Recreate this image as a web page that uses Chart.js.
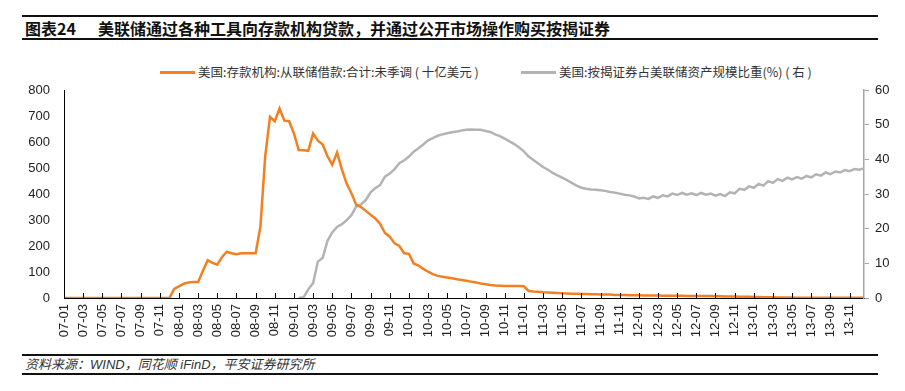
<!DOCTYPE html>
<html>
<head>
<meta charset="utf-8">
<script src="https://cdn.jsdelivr.net/npm/chart.js@4.4.0/dist/chart.umd.min.js"></script>
<style>
  html, body { margin: 0; padding: 0; background: #fff; }
  body { width: 905px; height: 391px; position: relative; overflow: hidden;
         font-family: "Liberation Sans", "Noto Sans CJK SC", sans-serif; color: #222; }
  .rule { position: absolute; left: 22px; width: 856px; height: 2px; background: #111; }
  #title { position: absolute; left: 25px; top: 17px; height: 22px; line-height: 22px;
           font-size: 16px; font-weight: bold; color: #111; white-space: nowrap;
           font-family: "Noto Sans CJK SC", sans-serif; }
  #title span { margin-left: 22px; }
  .swatch { position: absolute; top: 71px; width: 35px; height: 3px; }
  .legendText { position: absolute; top: 63px; line-height: 18px; font-size: 12.5px; color: #333;
                white-space: nowrap; font-family: "Noto Sans CJK SC", sans-serif; }
  #chartCanvas { position: absolute; left: 0; top: 60px; }
  #source { position: absolute; left: 25px; top: 356px; line-height: 17px; font-size: 13px;
            font-style: italic; color: #333; white-space: nowrap;
            font-family: "Liberation Sans", "Noto Sans CJK SC", sans-serif; }
</style>
</head>
<body>
<div class="rule" style="top:15px"></div>
<div id="title">图表24<span>美联储通过各种工具向存款机构贷款，并通过公开市场操作购买按揭证券</span></div>
<div class="rule" style="top:38px"></div>

<div class="swatch" id="sw1" style="left:160px"></div>
<div class="legendText" id="lg1" style="left:198px"></div>
<div class="swatch" id="sw2" style="left:521px"></div>
<div class="legendText" id="lg2" style="left:559px"></div>

<canvas id="chartCanvas" width="905" height="290"></canvas>

<div class="rule" style="top:354px"></div>
<div id="source">资料来源：WIND，同花顺 iFinD，平安证券研究所</div>
<div class="rule" style="top:373px"></div>

<script>
// ---- Data (half-monthly, 2007-01 .. 2013-12) ----
const tickLabels = [
  "07-01","07-03","07-05","07-07","07-09","07-11",
  "08-01","08-03","08-05","08-07","08-09","08-11",
  "09-01","09-03","09-05","09-07","09-09","09-11",
  "10-01","10-03","10-05","10-07","10-09","10-11",
  "11-01","11-03","11-05","11-07","11-09","11-11",
  "12-01","12-03","12-05","12-07","12-09","12-11",
  "13-01","13-03","13-05","13-07","13-09","13-11"
];

// 美国:存款机构:从联储借款 (十亿美元)
const loansBn = [
  0, 0, 0, 0, 0, 0, 0, 0, 0, 0, 0, 0, 0, 0, 0, 0, 0, 0, 0, 0, 0, 0, 0,
  35,
  45, 55, 60, 62, 62,
  105, 145, 135, 128, 158, 178, 172, 168, 172, 172, 172, 172,
  274, 545, 697, 680, 729, 682, 680,
  633, 569, 568, 566, 633, 605, 590, 545, 512, 560,
  495, 440, 403, 358, 350, 335, 320, 306, 285, 250,
  236, 210, 200, 172, 170, 133, 125, 112, 101, 92,
  85, 82, 79, 76, 72, 69, 66, 63, 60, 56,
  53, 50, 48, 47, 46, 46, 46, 46, 45, 27,
  25, 24, 22, 21, 20, 19, 18, 17, 16, 16,
  15, 15, 14, 14, 13, 13, 13, 12, 12, 12,
  11, 11, 11, 10, 10, 10, 10, 9, 9, 9,
  9, 9, 8, 8, 8, 8, 8, 8, 7, 7,
  6, 6, 6, 5, 5, 5, 4, 4, 3, 3,
  3, 2, 2, 2, 2, 1, 1, 1, 1, 1,
  1, 1, 1, 1, 0.5, 0.5, 0.5, 0.5, 0.5, 0.5
];

// 美国:按揭证券占美联储资产规模比重 (%)
const mbsShare = [
  null, null, null, null, null, null, null, null, null, null,
  null, null, null, null, null, null, null, null, null, null,
  null, null, null, null, null, null, null, null, null, null,
  null, null, null, null, null, null, null, null, null, null,
  null, null, null, null, null, null, null, null, null,
  0, 0.2, 2.5, 4.3, 10.5, 11.6, 16.5, 18.9, 20.5,
  21.3, 22.4, 23.9, 26.4, 27.0, 28.3, 30.5, 31.7, 32.6, 35.0,
  35.9, 37.2, 38.9, 39.7, 40.8, 42.2, 43.2, 44.3, 45.5, 46.1,
  46.8, 47.2, 47.5, 47.8, 48.0, 48.3, 48.5, 48.6, 48.5, 48.5,
  48.2, 47.9, 47.2, 46.7, 46.0, 45.2, 44.4, 43.4, 42.3, 40.8,
  39.8, 38.8, 37.8, 37.0, 36.1, 35.4, 34.7, 34.0, 33.2, 32.4,
  31.8, 31.5, 31.3, 31.2, 31.1, 30.9, 30.6, 30.4, 30.1, 29.8,
  29.6, 29.3, 28.7, 28.9, 28.6, 29.3, 28.9, 29.6, 29.3, 30.1,
  29.7, 30.3, 29.8, 30.2, 29.7, 30.3, 29.8, 30.1, 29.5, 30.0,
  29.4, 30.5, 30.2, 31.5, 31.2, 32.2, 31.8, 32.9, 32.4, 33.7,
  33.2, 34.3, 33.8, 34.7, 34.2, 34.9, 34.4, 35.2, 34.8, 35.7,
  35.3, 36.2, 35.7, 36.5, 36.2, 36.9, 36.6, 37.2, 37.0, 37.4
];

const seriesNames = [
  "美国:存款机构:从联储借款:合计:未季调 ( 十亿美元 )",
  "美国:按揭证券占美联储资产规模比重(%) ( 右 )"
];

// each 2-month tick label covers four half-month points
const categories = tickLabels.flatMap((t) => [t, "", "", ""]);

const ORANGE = "#f47f20";
const GREY = "#b3b3b3";
const AXIS_GREY = "#a6a6a6";
const TICK_FONT = { family: "Liberation Sans, Arial, sans-serif", size: 13 };

// ---- HTML legend ----
document.getElementById("sw1").style.background = ORANGE;
document.getElementById("sw2").style.background = GREY;
document.getElementById("lg1").textContent = seriesNames[0];
document.getElementById("lg2").textContent = seriesNames[1];

// x-axis tick marks point up into the plot, as in the source chart
const innerTicks = {
  id: "innerTicks",
  afterDraw(chart) {
    const xs = chart.scales.x;
    const c = chart.ctx;
    const bottom = chart.chartArea.bottom;
    c.save();
    c.strokeStyle = "#000";
    c.lineWidth = 1;
    xs.ticks.forEach((t, i) => {
      if (!categories[t.value]) return;
      const px = Math.round(xs.getPixelForTick(i)) + 0.5;
      c.beginPath();
      c.moveTo(px, bottom);
      c.lineTo(px, bottom - 5);
      c.stroke();
    });
    c.restore();
  }
};

new Chart(document.getElementById("chartCanvas"), {
  type: "line",
  data: {
    labels: categories,
    datasets: [
      { label: seriesNames[0], data: loansBn, yAxisID: "y",
        borderColor: ORANGE, backgroundColor: ORANGE, borderWidth: 2.5,
        pointRadius: 0, tension: 0 },
      { label: seriesNames[1], data: mbsShare, yAxisID: "y1",
        borderColor: GREY, backgroundColor: GREY, borderWidth: 2.5,
        pointRadius: 0, tension: 0 }
    ]
  },
  options: {
    responsive: false,
    animation: false,
    devicePixelRatio: 1,
    layout: { padding: { top: 30, left: 0, right: 0, bottom: 0 } },
    plugins: { legend: { display: false }, tooltip: { enabled: false } },
    scales: {
      x: {
        grid: { display: false, drawTicks: false },
        border: { display: true, color: "#000", width: 1 },
        ticks: {
          autoSkip: false, minRotation: 90, maxRotation: 90, padding: 6,
          color: "#222", font: TICK_FONT,
          callback: function (v) { return categories[v]; }
        },
        afterFit(scale) { scale.height = 52; }
      },
      y: {
        position: "left", min: 0, max: 800,
        grid: { display: false, drawTicks: false },
        border: { display: true, color: "#000", width: 1 },
        ticks: { stepSize: 100, padding: 14, color: "#222", font: TICK_FONT },
        afterFit(scale) { scale.width = 64; }
      },
      y1: {
        position: "right", min: 0, max: 60,
        grid: { display: true, drawOnChartArea: false, drawTicks: true, tickLength: 5, color: AXIS_GREY },
        border: { display: true, color: AXIS_GREY, width: 1.5 },
        ticks: { stepSize: 10, padding: 6, color: "#222", font: TICK_FONT },
        afterFit(scale) { scale.width = 41; }
      }
    }
  },
  plugins: [innerTicks]
});
</script>
</body>
</html>
